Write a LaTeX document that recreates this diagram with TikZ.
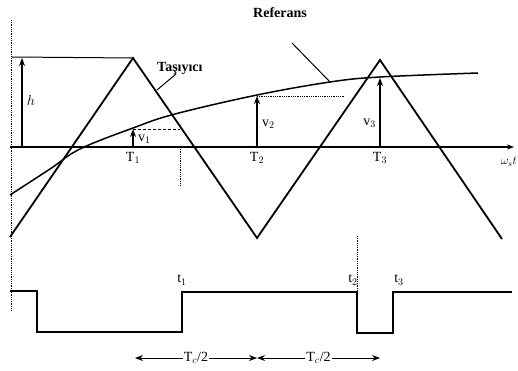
\documentclass[tikz,border=0pt]{standalone}
\usepackage{fontspec}
\setmainfont{Liberation Serif}
\usetikzlibrary{arrows.meta,positioning}

\begin{document}
\begin{tikzpicture}[x=1pt,y=-1pt,
  wave/.style={line width=1.8pt},
  guide/.style={densely dashed, line width=0.8pt},
  arr/.style={-{Stealth[length=8pt,width=6pt]}, line width=1.5pt},
  dim/.style={{Stealth[length=8pt,width=6pt]}-{Stealth[length=8pt,width=6pt]}, line width=1pt},
  lbl/.style={font=\fontsize{14}{16}\selectfont, inner sep=1pt},
  sml/.style={font=\fontsize{12}{14}\selectfont, inner sep=1pt}
]
\useasboundingbox (0,0) rectangle (518,371);

% axes
\coordinate (o) at (10,147);
\coordinate (xend) at (514,147);
\coordinate (ytop) at (11,20);
\coordinate (ybot) at (11,310);
\draw[densely dotted, line width=0.8pt] (ytop) -- (ybot);
\draw[-{Stealth[length=7pt]}, line width=1.2pt] (o) -- (xend);
\node[sml, anchor=north east] (wst) at (518,156) {$\omega_s t$};

% carrier (triangle)
\coordinate (c0) at (10,237);
\coordinate (c1) at (133,58);
\coordinate (c2) at (257,238);
\coordinate (c3) at (380,60);
\coordinate (c4) at (502,239);
\draw[wave] (c0) -- (c1) -- (c2) -- (c3) -- (c4);

% reference
\draw[line width=1.5pt] plot[smooth, tension=0.6] coordinates {(10,195) (50,169) (80,149) (133,128) (175,114) (257,95) (330,82) (380,77) (478,73)};

% h
\coordinate (htop) at (12,57);
\draw[line width=1pt] (htop) -- (c1);
\coordinate (h0) at (22,147);
\coordinate (h1) at (22,58);
\draw[arr] (h0) -- (h1);
\node[lbl] (h) at (31,101) {$h$};

% sample points
\coordinate (T1) at (133,147);
\coordinate (v1top) at (133,129);
\coordinate (T2) at (257,147);
\coordinate (v2top) at (257,96);
\coordinate (T3) at (380,147);
\coordinate (v3top) at (380,78);
\draw[arr] (T1) -- (v1top);
\draw[arr] (T2) -- (v2top);
\draw[arr] (T3) -- (v3top);
\coordinate (d1) at (180,129);
\coordinate (d2) at (345,96);
\draw[guide] (v1top) -- (d1);
\draw[densely dotted, line width=0.8pt] (v2top) -- (d2);

\node[lbl, below=4pt of T1] (t1lbl) {T$_1$};
\node[lbl, below=4pt of T2] (t2lbl) {T$_2$};
\node[lbl, below=4pt of T3] (t3lbl) {T$_3$};
\node[lbl, anchor=west] (v1) at (137,139) {v$_1$};
\node[lbl, anchor=west] (v2) at (261,124) {v$_2$};
\node[lbl, anchor=east] (v3) at (377,123) {v$_3$};

% dashed markers
\coordinate (m1a) at (180,147);
\coordinate (m1b) at (180,185);
\draw[densely dotted, line width=0.8pt] (m1a) -- (m1b);
\coordinate (m2a) at (357,236);
\coordinate (m2b) at (357,292);
\draw[densely dotted, line width=0.8pt] (m2a) -- (m2b);

% labels with pointers
\node[sml, font=\fontsize{14}{16}\selectfont\bfseries, anchor=west] (car) at (156,68) {Taşıyıcı};
\coordinate (carp) at (157,90);
\coordinate (carq) at (176,74);
\draw[line width=1pt] (carp) -- (carq);
\node[sml, font=\fontsize{14}{16}\selectfont\bfseries] (ref) at (280,13) {Referans};
\coordinate (refa) at (292,43);
\coordinate (refb) at (330,82);
\draw[line width=1pt] (refa) -- (refb);

% switching signal
\draw[wave] (10,291) -- (37,291) -- (37,332) -- (182,332) -- (182,292)
  -- (357,292) -- (357,333) -- (393,333) -- (393,292) -- (512,292);
\node[lbl] (s1) at (182,280) {t$_1$};
\node[lbl] (s2) at (353,280) {t$_2$};
\node[lbl] (s3) at (399,280) {t$_3$};

% half periods
\coordinate (p0) at (135,358);
\coordinate (p1) at (257,358);
\coordinate (p2) at (380,358);
\draw[dim] (p0) -- node[fill=white, lbl] {T$_c$/2} (p1);
\draw[dim] (p1) -- node[fill=white, lbl] {T$_c$/2} (p2);
\end{tikzpicture}
\end{document}
